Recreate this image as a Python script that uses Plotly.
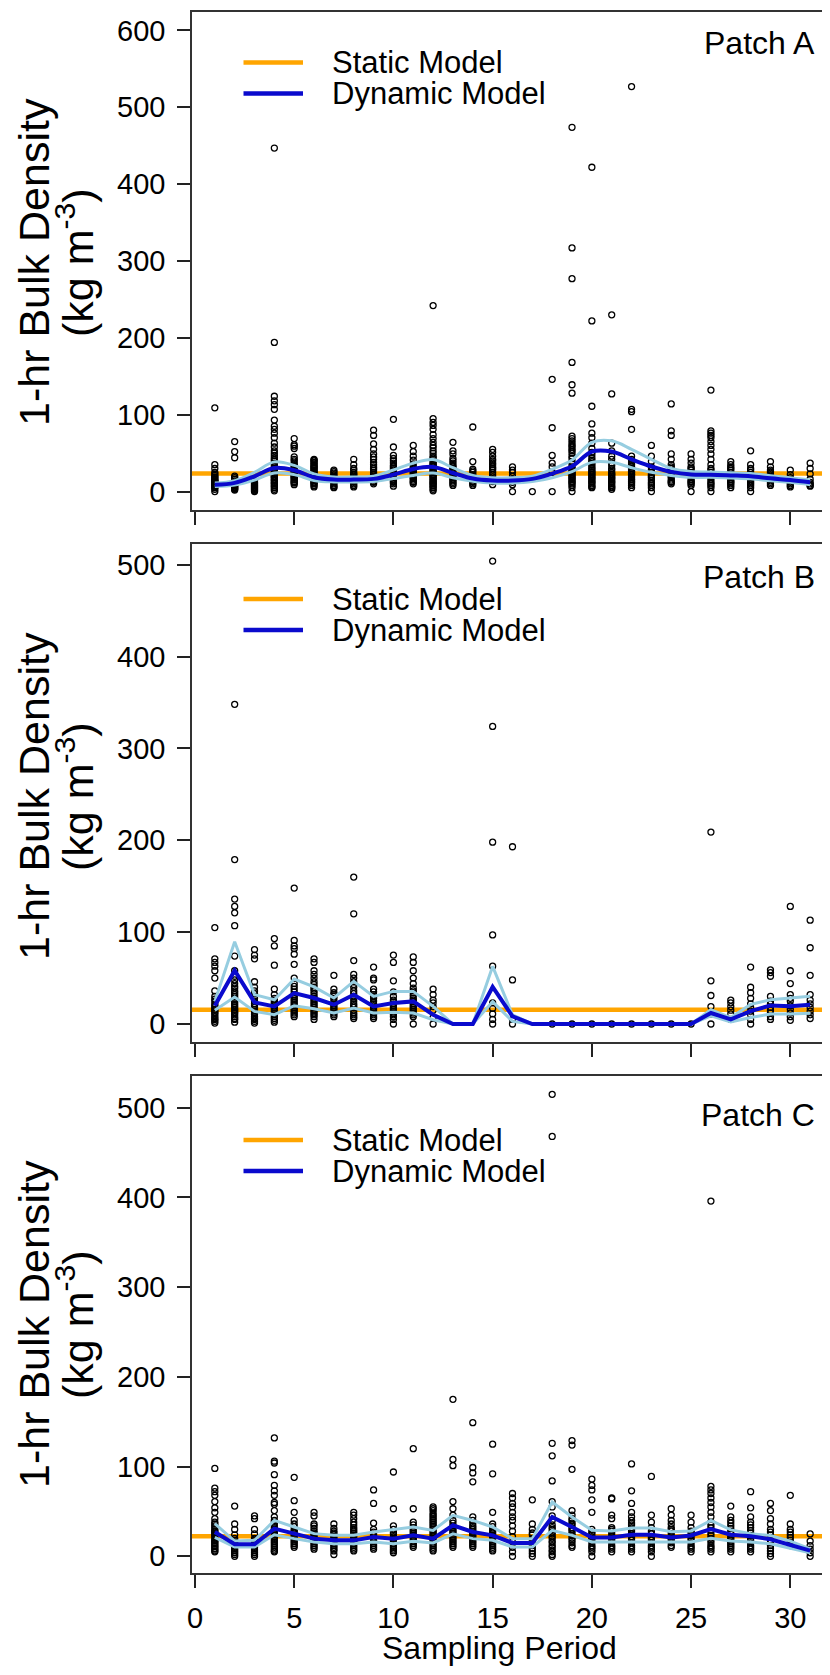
import plotly.graph_objects as go

# ---------------- data ----------------
periods = list(range(1, 32))

static_A = 23.5
static_B = 15.6
static_C = 22.4

pts_A = [
    [109, 35, 30, 25, 23, 21, 19, 18, 16, 15, 14, 13, 12, 11, 10, 9, 8, 7, 6, 5, 3, 0],
    [65, 52, 44, 20, 18, 16, 14, 12, 11, 10, 9, 8, 7, 6, 5, 4, 3, 2],
    [14, 12, 11, 10, 9, 8, 7, 6, 5, 4, 3, 2, 1, 0],
    [447, 194, 124, 118, 113, 107, 93, 85, 81, 76, 70, 63, 58, 53, 50, 47, 44, 42, 40, 37, 35, 32, 30, 28, 26, 25,
     23, 22, 20, 19, 18, 16, 15, 14, 12, 11, 10, 8, 7, 5, 3, 1],
    [69, 61, 59, 56, 45, 42, 40, 37, 35, 33, 31, 29, 28, 26, 25, 23, 22, 20, 19, 18, 16, 15, 13, 12, 11, 9],
    [42, 41, 40, 38, 37, 35, 34, 32, 31, 30, 28, 27, 25, 24, 22, 21, 20, 18, 17, 15, 14, 12, 11, 10, 8, 6],
    [28, 26, 24, 22, 20, 18, 16, 14, 12, 10, 8, 6, 5],
    [42, 35, 30, 28, 25, 23, 22, 20, 18, 16, 15, 13, 12, 10, 8, 6],
    [80, 73, 62, 55, 49, 45, 42, 38, 35, 32, 30, 28, 25, 23, 20, 18, 15, 13, 12, 10],
    [94, 58, 47, 43, 40, 37, 34, 32, 30, 28, 25, 23, 22, 20, 18, 16, 15, 13, 12, 10, 7],
    [60, 52, 46, 41, 36, 32, 30, 28, 26, 25, 23, 21, 20, 18, 17, 15, 13, 12, 10],
    [242, 95, 90, 86, 81, 74, 69, 64, 60, 57, 53, 50, 46, 44, 42, 40, 38, 36, 35, 33, 32, 30, 28, 27, 25, 24, 22,
     21, 20, 18, 17, 15, 14, 12, 11, 10, 8, 7, 5, 3, 1],
    [64, 53, 49, 43, 40, 37, 34, 32, 30, 28, 25, 23, 20, 18, 16, 14, 12, 10, 8],
    [84, 39, 29, 27, 25, 22, 20, 18, 15, 13, 12, 10, 8],
    [55, 51, 46, 42, 40, 37, 35, 32, 30, 28, 25, 22, 19, 16, 13, 9],
    [32, 28, 25, 20, 16, 12, 9, 0],
    [0],
    [146, 83, 47, 37, 32, 25, 0],
    [474, 317, 277, 168, 139, 128, 72, 69, 66, 63, 60, 58, 55, 53, 50, 46, 43, 39, 36, 32, 30, 28, 26, 25, 23, 22,
     20, 18, 17, 15, 13, 12, 10, 8, 5, 0],
    [422, 222, 111, 88, 76, 70, 63, 56, 51, 48, 44, 41, 39, 37, 35, 32, 30, 28, 26, 25, 23, 22, 20, 18, 17, 15, 13,
     12, 10, 8, 6, 5],
    [230, 127, 63, 53, 46, 42, 37, 34, 30, 28, 25, 23, 22, 20, 18, 17, 15, 13, 12, 10, 8, 6, 5, 3],
    [527, 107, 104, 81, 46, 42, 40, 37, 35, 32, 30, 28, 26, 25, 23, 22, 20, 18, 16, 15, 13, 12, 10, 8, 5],
    [60, 46, 39, 32, 28, 25, 22, 20, 18, 15, 12, 10, 8, 5, 0],
    [114, 79, 73, 49, 42, 35, 32, 30, 27, 25, 22, 20, 18, 15, 13, 12, 10],
    [49, 42, 37, 32, 30, 28, 25, 23, 20, 18, 15, 13, 12, 10, 8, 0],
    [132, 79, 76, 73, 70, 65, 60, 55, 49, 42, 35, 30, 28, 25, 22, 20, 18, 15, 12, 10, 8, 5, 0],
    [39, 35, 32, 30, 28, 25, 22, 20, 18, 15, 13, 12, 10, 8, 5],
    [53, 35, 30, 28, 25, 22, 20, 18, 16, 14, 12, 10, 8, 5, 0],
    [39, 32, 28, 26, 24, 22, 20, 18, 16, 14, 12, 10, 8],
    [28, 22, 18, 16, 14, 12, 10, 8, 6],
    [37, 30, 23, 16, 12, 10, 8, 7],
]

pts_B = [
    [105, 71, 67, 63, 58, 50, 36, 30, 27, 25, 22, 20, 18, 16, 15, 13, 12, 10, 8, 6, 5, 3, 1],
    [348, 179, 136, 128, 121, 107, 74, 58, 52, 48, 44, 41, 39, 36, 34, 32, 30, 28, 26, 24, 22, 20, 18, 16, 15, 13,
     12, 10, 8, 6, 5, 2],
    [81, 75, 71, 46, 40, 36, 33, 30, 28, 25, 22, 20, 18, 16, 14, 12, 10, 8, 6, 5, 3, 1],
    [93, 85, 64, 38, 32, 28, 26, 24, 22, 20, 18, 16, 14, 12, 10, 8, 6, 4, 2],
    [148, 91, 85, 82, 76, 65, 50, 44, 41, 38, 35, 32, 30, 28, 26, 24, 22, 20, 18, 16, 14, 12, 10, 8],
    [71, 67, 58, 54, 50, 46, 43, 40, 38, 36, 33, 30, 28, 26, 24, 22, 20, 18, 16, 14, 12, 10, 8, 5],
    [53, 38, 34, 32, 30, 28, 25, 22, 20, 18, 16, 14, 12, 10, 8],
    [160, 120, 69, 54, 50, 46, 43, 40, 36, 33, 30, 28, 25, 22, 20, 18, 15, 12, 10, 8, 6],
    [62, 50, 48, 38, 35, 32, 30, 28, 25, 22, 20, 18, 16, 14, 12, 10, 8, 6],
    [75, 67, 47, 35, 30, 26, 24, 22, 20, 18, 16, 14, 12, 10, 8, 5, 0],
    [73, 67, 58, 50, 44, 39, 36, 34, 31, 28, 26, 24, 22, 20, 18, 16, 14, 12, 10, 8, 0],
    [38, 32, 26, 23, 19, 15, 7, 0],
    [],
    [],
    [504, 324, 198, 97, 63, 23, 17, 11, 5, 0],
    [193, 48, 5, 0],
    [],
    [0], [0], [0], [0], [0], [0], [0], [0],
    [209, 47, 31, 19, 11, 0],
    [26, 23, 19, 15, 11, 5],
    [62, 40, 34, 28, 22, 18, 14, 10, 5, 0],
    [59, 56, 52, 30, 25, 22, 18, 15, 12, 8, 5],
    [128, 58, 44, 32, 28, 25, 20, 16, 12, 8, 4],
    [113, 83, 53, 32, 26, 22, 18, 14, 10, 6],
]

pts_C = [
    [98, 76, 72, 68, 61, 54, 49, 42, 38, 36, 34, 32, 30, 28, 27, 25, 24, 22, 20, 18, 17, 15, 14, 12, 11, 9, 8, 6, 5],
    [56, 36, 30, 24, 20, 18, 16, 14, 12, 10, 8, 6, 4, 2, 0],
    [45, 42, 30, 25, 20, 18, 16, 14, 12, 10, 8, 6, 4, 2, 0],
    [132, 106, 104, 91, 79, 73, 68, 60, 58, 51, 44, 40, 38, 35, 32, 30, 28, 26, 24, 22, 20, 18, 16, 14, 12, 10, 8,
     6, 5],
    [88, 62, 49, 40, 36, 33, 30, 28, 26, 24, 22, 20, 18, 16, 14, 12, 10],
    [49, 45, 36, 34, 31, 28, 26, 24, 22, 20, 18, 16, 14, 12, 10, 8],
    [36, 31, 28, 26, 24, 22, 20, 18, 16, 14, 12, 10, 8, 6, 2],
    [49, 46, 42, 38, 35, 32, 30, 28, 26, 24, 22, 20, 18, 16, 14, 12, 10, 8, 6],
    [74, 59, 37, 30, 27, 25, 23, 20, 18, 16, 14, 12, 10, 8],
    [94, 53, 34, 30, 27, 25, 22, 20, 18, 16, 14, 12, 10, 8, 6, 4],
    [120, 53, 38, 35, 32, 30, 28, 26, 24, 22, 20, 18, 16, 14, 12, 10],
    [55, 53, 51, 48, 46, 44, 42, 40, 38, 36, 34, 32, 30, 28, 26, 24, 22, 20, 18, 16, 14, 12, 10, 8, 6],
    [175, 108, 101, 61, 53, 46, 40, 37, 34, 32, 30, 28, 26, 24, 22, 20, 18, 16, 14, 12, 10],
    [149, 99, 93, 83, 44, 40, 37, 34, 32, 30, 28, 26, 24, 22, 20, 18, 16, 14, 12, 10],
    [125, 92, 49, 36, 33, 30, 28, 26, 24, 22, 20, 18, 16, 14, 12, 10, 8, 6],
    [70, 65, 59, 55, 49, 44, 40, 34, 28, 22, 16, 10, 5, 0],
    [63, 36, 30, 26, 24, 20, 18, 15, 12, 9, 6, 3, 0],
    [515, 468, 126, 112, 84, 61, 55, 45, 40, 35, 32, 30, 27, 25, 22, 20, 17, 15, 12, 10, 7, 5, 2, 0],
    [129, 124, 97, 51, 46, 42, 40, 37, 35, 32, 30, 28, 25, 23, 20, 18, 15, 12, 10],
    [86, 79, 74, 63, 49, 30, 27, 25, 22, 20, 18, 15, 12, 10, 8, 5, 0],
    [65, 64, 46, 42, 32, 30, 28, 25, 22, 20, 18, 15, 12, 10, 8, 5],
    [103, 73, 59, 49, 44, 40, 37, 35, 32, 30, 28, 25, 22, 20, 18, 15, 12, 10, 8, 5],
    [89, 46, 38, 32, 28, 25, 22, 20, 18, 15, 12, 10, 8, 5, 0],
    [53, 46, 40, 36, 32, 30, 28, 25, 22, 20, 18, 15, 12, 10],
    [46, 38, 32, 28, 26, 23, 20, 18, 15, 12, 10, 8, 5],
    [396, 78, 74, 70, 65, 60, 55, 49, 44, 38, 35, 32, 29, 26, 23, 20, 18, 15, 12, 10, 8, 5],
    [56, 44, 40, 37, 34, 31, 28, 25, 22, 20, 18, 16, 14, 12, 10, 8, 5],
    [72, 54, 44, 38, 35, 32, 29, 26, 23, 20, 18, 15, 12, 10, 8, 5],
    [59, 51, 42, 36, 30, 27, 24, 21, 18, 15, 12, 9, 6, 3, 0],
    [68, 36, 30, 27, 24, 21, 18, 15, 12],
    [25, 17, 12, 8, 4, 0],
]

mean_A = [8.7, 11.3, 19.9, 30.7, 27.7, 18.6, 15.6, 15.6, 16.5, 22, 29.4, 32, 24.2, 16.9, 14.3, 14.3,
          16.5, 23.4, 32.9, 52, 52, 41.9, 32.6, 25.6, 22.3, 21.9, 21, 20, 17.2, 14.9, 12]
upper_A = [11, 14, 25, 38.6, 34, 23, 19, 19, 20, 28, 37, 41.6, 31, 21, 18, 18,
           20, 29, 41, 64, 66, 55, 42, 30, 26, 25.5, 24.5, 23.5, 20.5, 18, 15]
lower_A = [6.5, 8.5, 15, 24.2, 22, 14.5, 12.5, 12.5, 13, 17, 21, 24, 18, 13.5, 11, 11,
           13, 18, 26, 38, 38, 31, 25, 21, 18.5, 18.5, 17.5, 16.5, 14, 12, 9]

mean_B = [19.9, 58.3, 23.5, 19.2, 33.7, 28.3, 21, 31.9, 19.2, 22.8, 24.6, 10.1, 0, 0, 40.3, 8.3,
          0, 0, 0, 0, 0, 0, 0, 0, 0, 12, 5, 14, 20.2, 19.4, 21]
upper_B = [24.6, 89.6, 31.9, 26.4, 49, 40.3, 28.3, 46.4, 30, 35.5, 35.5, 19.2, 0, 0, 62.7, 10,
           0, 0, 0, 0, 0, 0, 0, 0, 0, 15.5, 7, 21.3, 26.4, 28.3, 30.2]
lower_B = [15, 29.4, 13.7, 10.1, 19.9, 16.6, 12, 17.4, 12, 12.7, 12, 4.7, 0, 0, 24.3, 2.8,
           0, 0, 0, 0, 0, 0, 0, 0, 0, 8.9, 2.3, 7, 10.9, 10.9, 11.6]

mean_C = [27.1, 13.4, 13.4, 30.9, 25.3, 19.7, 17.8, 17.8, 21.5, 19.7, 23.4, 19.7, 34.6, 27.1, 23.4, 14.9,
          14.9, 43.8, 32.7, 21, 21.1, 24, 24, 21.1, 23.2, 30.4, 24, 22.4, 19, 12.7, 6.3]
upper_C = [36.4, 17, 17.8, 40, 32.7, 25.3, 23.4, 23.4, 27.1, 29.7, 32.7, 28.9, 45.7, 40, 32.7, 19.7,
           19.7, 60.5, 43.8, 29, 28.3, 31.6, 31.6, 27.4, 28.3, 40, 29.5, 25.3, 23.2, 16.9, 8.4]
lower_C = [21, 10.4, 10.4, 24, 19.7, 16, 14.1, 14.1, 16, 14.1, 16.7, 14.9, 25, 19.7, 17.8, 10.4,
           10.4, 28.9, 23.4, 16, 16, 16, 16, 16, 16, 20, 17, 16, 14, 9, 4]

patch_labels = ["Patch A", "Patch B", "Patch C"]
y_ranges = [[-24, 624], [-19.6, 522.6], [-18.6, 535.4]]
y_ticks = [[0, 100, 200, 300, 400, 500, 600], [0, 100, 200, 300, 400, 500], [0, 100, 200, 300, 400, 500]]
x_ticks = [0, 5, 10, 15, 20, 25, 30]
x_range = [-0.15, 32.0]

# ---------------- styling / layout helpers ----------------
OFF = 8                       # page body margin of the html page
VW, VH = 830, 1675            # target picture size
W, H = VW - OFF, VH - OFF     # figure size
PLOT_L, PLOT_T, PLOT_B = 192, 12, 1573   # plot area edges in picture pixels
ML, MR, MT = PLOT_L - OFF, 0, PLOT_T - OFF
MB = H - (PLOT_B - OFF)
PW, PH = W - ML - MR, H - MT - MB
FONT = "Liberation Sans, Arial, sans-serif"
ORANGE = "#FFA500"
BLUE = "#0A0ACD"
LIGHT = "#96CDE0"


def px_x(px):
    return (px - OFF - ML) / PW


def px_y(py):
    return (H - MB - (py - OFF)) / PH


panel_px = [(12, 510), (544, 1042), (1076, 1573)]  # top, bottom in picture pixels
legend_px = [(62.5, 93.5), (599, 630), (1140, 1171)]
patch_px = [43, 576.5, 1115]
title_px = [262, 796, 1324]

fig = go.Figure()

datasets = [
    (pts_A, mean_A, upper_A, lower_A, static_A),
    (pts_B, mean_B, upper_B, lower_B, static_B),
    (pts_C, mean_C, upper_C, lower_C, static_C),
]

for i, (pts, mean, up, lo, stat) in enumerate(datasets):
    xa = "x" if i == 0 else f"x{i + 1}"
    ya = "y" if i == 0 else f"y{i + 1}"
    xs, ys = [], []
    for p, vals in zip(periods, pts):
        for v in vals:
            xs.append(p)
            ys.append(v)
    fig.add_trace(go.Scatter(x=xs, y=ys, mode="markers", xaxis=xa, yaxis=ya,
                             marker=dict(symbol="circle-open", size=6, color="black",
                                         line=dict(width=1.3, color="black")),
                             showlegend=False, hoverinfo="skip"))
    shape = "spline" if i == 0 else "linear"
    for band in (up, lo):
        fig.add_trace(go.Scatter(x=periods, y=band, mode="lines", xaxis=xa, yaxis=ya,
                                 line=dict(color=LIGHT, width=3, shape=shape),
                                 showlegend=False, hoverinfo="skip"))
    fig.add_trace(go.Scatter(x=periods, y=mean, mode="lines", xaxis=xa, yaxis=ya,
                             line=dict(color=BLUE, width=4, shape=shape),
                             showlegend=False, hoverinfo="skip"))
    fig.add_shape(type="line", xref=f"{xa} domain", yref=ya, x0=0, x1=1, y0=stat, y1=stat,
                  line=dict(color=ORANGE, width=4.5), layer="below")

layout = dict(
    width=W, height=H,
    margin=dict(l=ML, r=MR, t=MT, b=MB, pad=0),
    paper_bgcolor="white", plot_bgcolor="white",
    font=dict(family=FONT, color="black"),
    showlegend=False,
)

for i in range(3):
    top, bot = panel_px[i]
    xk = "xaxis" if i == 0 else f"xaxis{i + 1}"
    yk = "yaxis" if i == 0 else f"yaxis{i + 1}"
    ya = "y" if i == 0 else f"y{i + 1}"
    xa = "x" if i == 0 else f"x{i + 1}"
    layout[xk] = dict(domain=[0, 1], anchor=ya, range=x_range, tickvals=x_ticks,
                      ticks="outside", ticklen=13, tickwidth=1.5, tickcolor="#222",
                      showticklabels=(i == 2), tickfont=dict(size=29, family=FONT, color="black"),
                      ticklabelstandoff=5,
                      showline=True, linewidth=1.5, linecolor="#333", mirror=True,
                      showgrid=False, zeroline=False)
    layout[yk] = dict(domain=[max(0.0, px_y(bot)), min(1.0, px_y(top))], anchor=xa, range=y_ranges[i],
                      tickvals=y_ticks[i], ticks="outside", ticklen=13, tickwidth=1.5, tickcolor="#222",
                      tickfont=dict(size=29, family=FONT, color="black"), ticklabelstandoff=6,
                      showline=True, linewidth=1.5, linecolor="#333", mirror=False,
                      showgrid=False, zeroline=False)

fig.update_layout(**layout)

for i in range(3):
    oy, by = legend_px[i]
    for yy, col, txt in ((oy, ORANGE, "Static Model"), (by, BLUE, "Dynamic Model")):
        fig.add_shape(type="line", xref="paper", yref="paper",
                      x0=px_x(243.5), x1=px_x(303), y0=px_y(yy), y1=px_y(yy),
                      line=dict(color=col, width=4.5))
        fig.add_annotation(text=txt, xref="paper", yref="paper", x=px_x(330), y=px_y(yy),
                           xanchor="left", yanchor="middle", showarrow=False,
                           font=dict(size=31, family=FONT, color="black"))
    fig.add_annotation(text=patch_labels[i], xref="paper", yref="paper", x=px_x(817), y=px_y(patch_px[i]),
                       xanchor="right", yanchor="middle", showarrow=False,
                       font=dict(size=32, family=FONT, color="black"))
    fig.add_annotation(text="1-hr Bulk Density", xref="paper", yref="paper", x=px_x(34), y=px_y(title_px[i]),
                       xanchor="center", yanchor="middle", textangle=-90, showarrow=False,
                       font=dict(size=43, family=FONT, color="black"))
    fig.add_annotation(text="(kg m<sup>-3</sup>)", xref="paper", yref="paper", x=px_x(75), y=px_y(title_px[i]),
                       xanchor="center", yanchor="middle", textangle=-90, showarrow=False,
                       font=dict(size=43, family=FONT, color="black"))

fig.add_annotation(text="Sampling Period", xref="paper", yref="paper", x=px_x(499), y=px_y(1648),
                   xanchor="center", yanchor="middle", showarrow=False,
                   font=dict(size=32, family=FONT, color="black"))

fig.write_html("out.html")
